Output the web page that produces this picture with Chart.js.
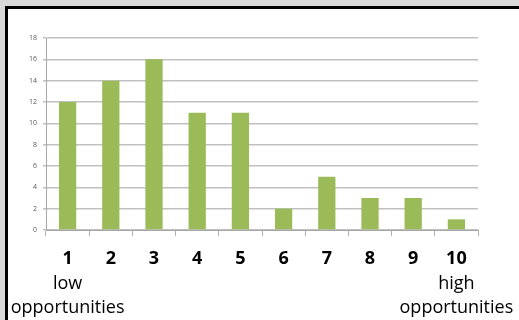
<!DOCTYPE html>
<html>
<head>
<meta charset="utf-8">
<script src="https://cdn.jsdelivr.net/npm/chart.js@4/dist/chart.umd.min.js"></script>
<style>
  html, body { margin: 0; padding: 0; }
  body { width: 519px; height: 320px; background: #d9d9d9; position: relative; overflow: hidden; }
  #frame {
    position: absolute; left: 5px; top: 6px; width: 600px; height: 400px;
    background: #fff; border-left: 3px solid #000; border-top: 3px solid #000;
  }
  #wrap { position: absolute; left: 0; top: 0; width: 519px; height: 320px; }
</style>
</head>
<body>
<div id="frame"></div>
<div id="wrap"><canvas id="chart"></canvas></div>
<script>
// Rating scale and number of responses per rating
const ratings = ['1', '2', '3', '4', '5', '6', '7', '8', '9', '10'];
const counts = [12, 14, 16, 11, 11, 2, 5, 3, 3, 1];
const yTicks = [0, 2, 4, 6, 8, 10, 12, 14, 16, 18];

// Captions under the two ends of the scale
const lowCaption = ['low', 'opportunities'];
const highCaption = ['high', 'opportunities'];

const labelFont = '"Open Sans", sans-serif';

// Draw the end captions under the first and last rating
const captionPlugin = {
  id: 'captions',
  afterDraw(chart) {
    const ctx = chart.ctx;
    const x = chart.scales.x;
    ctx.save();
    ctx.font = '18px ' + labelFont;
    ctx.fillStyle = '#000';
    ctx.textAlign = 'center';
    ctx.textBaseline = 'middle';
    const ends = [[0, lowCaption], [ratings.length - 1, highCaption]];
    ends.forEach(([idx, lines]) => {
      const px = x.getPixelForValue(idx);
      lines.forEach((line, i) => {
        ctx.fillText(line, px, 284 + i * 24);
      });
    });
    ctx.restore();
  }
};

new Chart(document.getElementById('chart'), {
  type: 'bar',
  data: {
    labels: ratings,
    datasets: [{
      data: counts,
      backgroundColor: '#9bbb59',
      barPercentage: 0.4,
      categoryPercentage: 1.0
    }]
  },
  options: {
    responsive: true,
    maintainAspectRatio: false,
    animation: false,
    layout: { padding: { top: 38, right: 41, left: 0, bottom: 0 } },
    plugins: {
      legend: { display: false },
      tooltip: { enabled: false }
    },
    scales: {
      x: {
        grid: {
          drawOnChartArea: false,
          drawTicks: true,
          tickLength: 6,
          color: '#b0b0b0'
        },
        border: { color: '#a6a6a6' },
        ticks: {
          color: '#000',
          font: { family: labelFont, size: 18, weight: 'bold' },
          padding: 12,
          maxRotation: 0
        },
        afterFit(scale) { scale.height = 90; }
      },
      y: {
        min: 0,
        max: 18,
        afterBuildTicks(scale) { scale.ticks = yTicks.map(v => ({ value: v })); },
        grid: {
          color: '#c0c0c0',
          lineWidth: 1.5,
          tickLength: 3
        },
        border: { color: '#a6a6a6' },
        ticks: {
          color: '#595959',
          font: { family: labelFont, size: 7 },
          padding: 6
        },
        afterFit(scale) { scale.width = 46; }
      }
    }
  },
  plugins: [captionPlugin]
});
</script>
</body>
</html>
